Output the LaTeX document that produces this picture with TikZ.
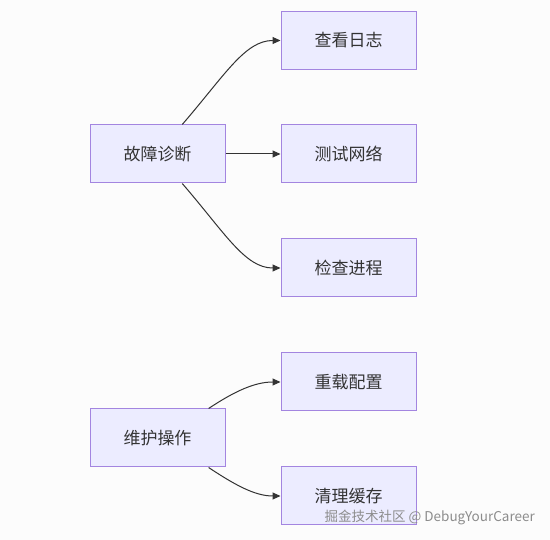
\documentclass[tikz,border=0pt]{standalone}
\usepackage{fontspec}
\newfontfamily\cjk{Noto Sans CJK SC}
\usetikzlibrary{arrows.meta}

\definecolor{boxfill}{HTML}{ECECFF}
\definecolor{boxline}{HTML}{9370DB}
\definecolor{inkline}{HTML}{333333}

\begin{document}
\begin{tikzpicture}[x=1pt, y=-1pt,
    box/.style={draw=boxline!85, fill=boxfill, line width=1pt, minimum width=135pt, minimum height=58pt, inner sep=0pt, font=\cjk\fontsize{17}{17}\selectfont, text=inkline},
    link/.style={draw=inkline, line width=1pt, -{Triangle[length=8pt, width=7pt]}}]
    \fill[white!99!black] (0,0) rectangle (550,540);
    \useasboundingbox (0,0) rectangle (550,540);
    % left column
    \node[box] (diag) at (157.5,154) {故障诊断};
    \node[box] (maint) at (157.5,438) {维护操作};
    % right column
    \node[box] (logs) at (348.5,40.5) {查看日志};
    \node[box] (net) at (348.5,154) {测试网络};
    \node[box] (proc) at (348.5,268) {检查进程};
    \node[box] (reload) at (348.5,382) {重载配置};
    \node[box] (cache) at (348.5,496) {清理缓存};
    % connectors
    \draw[link] (diag.50) .. controls (225,75) and (245,40.5) .. (logs.west);
    \draw[link] (diag.east) -- (net.west);
    \draw[link] (diag.-50) .. controls (225,233) and (245,268) .. (proc.west);
    \draw[link] (maint.30) .. controls (235,391) and (255,382) .. (reload.west);
    \draw[link] (maint.-30) .. controls (235,485) and (255,496) .. (cache.west);
    % watermark
    \node[text=black!45, font=\cjk\fontsize{13.5}{13.5}\selectfont, anchor=east, inner sep=0pt] (mark) at (535,517) {掘金技术社区 @ DebugYourCareer};
\end{tikzpicture}
\end{document}
